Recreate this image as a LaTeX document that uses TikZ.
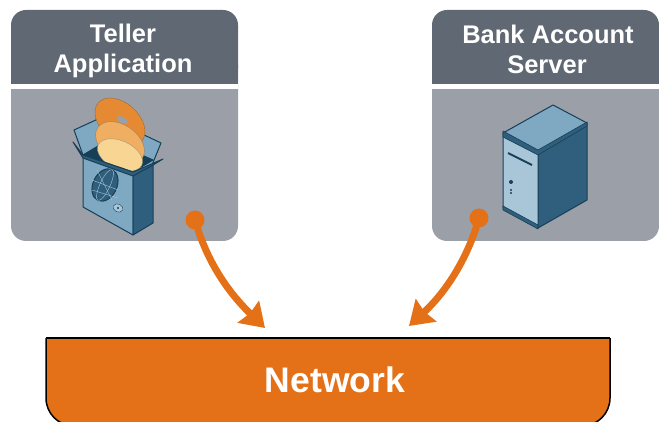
\documentclass[tikz,border=0pt]{standalone}
\usepackage{fontspec}
\setmainfont{Liberation Sans}
\usetikzlibrary{arrows.meta}
\definecolor{headGrey}{HTML}{5F6873}
\definecolor{bodyGrey}{HTML}{9B9FA8}
\definecolor{netOrange}{HTML}{E47118}
\definecolor{iconDark}{HTML}{2F5F7C}
\definecolor{iconMid}{HTML}{7FA8C2}
\definecolor{iconPale}{HTML}{A9C6D8}
\definecolor{iconLine}{HTML}{173F58}
\definecolor{discOuter}{HTML}{E58A33}
\definecolor{discMid}{HTML}{F0AE62}
\definecolor{discPale}{HTML}{F8D593}
\tikzset{
	title/.style={text=white,font=\bfseries\fontsize{25.5}{25.5}\selectfont,anchor=base},
	dotnode/.style={circle,fill=netOrange,inner sep=0pt,minimum size=19pt},
	link/.style={draw=netOrange,line width=7pt,-{Stealth[length=23pt,width=30pt,inset=2pt]}},
	icon/.style={draw=iconLine,line width=1pt,line join=round}
}
\def\drawPanel{
\fill[bodyGrey,rounded corners=15pt] (0,40) -- (0,231) -- (227,231) -- (227,40) -- cycle;
\fill[headGrey,rounded corners=15pt] (0,74) -- (0,0) -- (227,0) -- (227,74) -- cycle;
\fill[headGrey] (0,50) rectangle (227,74);
\fill[white] (0,74) rectangle (227,79);
}
\def\drawSoftwareBox{
\draw[icon,fill=iconMid] (83,155) -- (74,130) -- (98,119) -- (108,145) -- cycle;
\draw[icon,fill=iconMid] (133,172) -- (152,165) -- (161,143) -- (140,133) -- cycle;
\draw[icon,fill=iconLine] (83,155) -- (108,140) -- (153,160) -- (133,172) -- cycle;
\draw[draw=iconLine!40!discOuter,fill=discOuter] (120,122) ellipse [x radius=29pt,y radius=19pt,rotate=-42];
\fill[bodyGrey] (122,120) ellipse [x radius=6pt,y radius=3pt,rotate=-30];
\draw[draw=iconLine!40!discMid,fill=discMid] (120,143) ellipse [x radius=27pt,y radius=18pt,rotate=-35];
\draw[draw=iconLine!40!discPale,fill=discPale] (120,155) ellipse [x radius=24pt,y radius=14pt,rotate=-25];
\draw[icon,fill=iconMid] (83,155) -- (133,172) -- (133,235) -- (83,207) -- cycle;
\draw[icon,fill=iconDark] (133,172) -- (153,165) -- (153,223) -- (133,235) -- cycle;
\draw[icon,fill=iconDark] (73,142) -- (83,155) -- (133,172) -- (163,159) -- (153,165) -- (133,176) -- (83,158) -- cycle;
\draw[icon,fill=iconDark] (105,185) ellipse [x radius=17pt,y radius=12pt,rotate=65];
\draw[iconPale] (97,170) -- (112,200) (92,180) -- (118,190) (92,190) -- (118,198);
\draw[iconPale] (105,185) ellipse [x radius=17pt,y radius=5pt,rotate=65];
\draw[iconLine,fill=iconPale] (118,208) ellipse [x radius=5pt,y radius=4pt,rotate=-25];
\fill[iconLine] (118,208) circle (1.2pt);
}
\def\drawServer{
\draw[icon,fill=iconMid] (503,133) -- (553,105) -- (587,123) -- (538,152) -- cycle;
\draw[icon,fill=iconDark] (538,152) -- (587,123) -- (587,200) -- (538,228) -- cycle;
\draw[icon,fill=iconPale] (503,133) -- (538,152) -- (538,228) -- (503,208) -- cycle;
\draw[icon,fill=iconDark,line width=.6pt] (503,131) -- (538,150) -- (587,122) -- (587,126) -- (538,155) -- (503,137) -- cycle;
\draw[icon,fill=iconDark,line width=.6pt] (503,206) -- (538,225) -- (538,229) -- (503,210) -- cycle;
\draw[iconLine,line width=2pt] (508,153) -- (532,165);
\fill[iconLine] (511,182) circle (2pt);
\fill[iconLine] (511,190) circle (1.2pt);
\fill[iconLine] (511,193) circle (1.2pt);
}

\begin{document}
\begin{tikzpicture}[x=1pt,y=-1pt]
	\useasboundingbox (0,0) rectangle (659,422);
	\begin{scope}[shift = {(11,10)}]
	\drawPanel
	\end{scope}
	\begin{scope}[shift = {(432,10)}]
	\drawPanel
	\end{scope}
	\node[title] (teller) at (123,43) {Teller};
	\node[title] (application) at (123,73) {Application};
	\node[title] (bank) at (548,44) {Bank Account};
	\node[title] (server) at (547,74) {Server};
	\drawSoftwareBox
	\drawServer
	\draw[black,line width=1.5pt,fill=netOrange,rounded corners=28pt] (46,338) -- (46,426) -- (610,426) -- (610,338);
	\fill[netOrange] (46.8,338.8) rectangle (609.2,360);
	\draw[black,line width=1.5pt] (46,338) -- (610,338);
	\node[text=white,font=\bfseries\fontsize{35.5}{35.5}\selectfont,anchor=base] (network) at (335,392) {Network};
	\node[dotnode] (dotTeller) at (195,220) {};
	\node[dotnode] (dotServer) at (479,218) {};
	\coordinate (tipTeller) at (265,328);
	\coordinate (tipServer) at (409,326);
	\draw[link] (dotTeller.center) .. controls (207,262) and (228,292) .. (tipTeller);
	\draw[link] (dotServer.center) .. controls (468,258) and (446,292) .. (tipServer);
\end{tikzpicture}
\end{document}
